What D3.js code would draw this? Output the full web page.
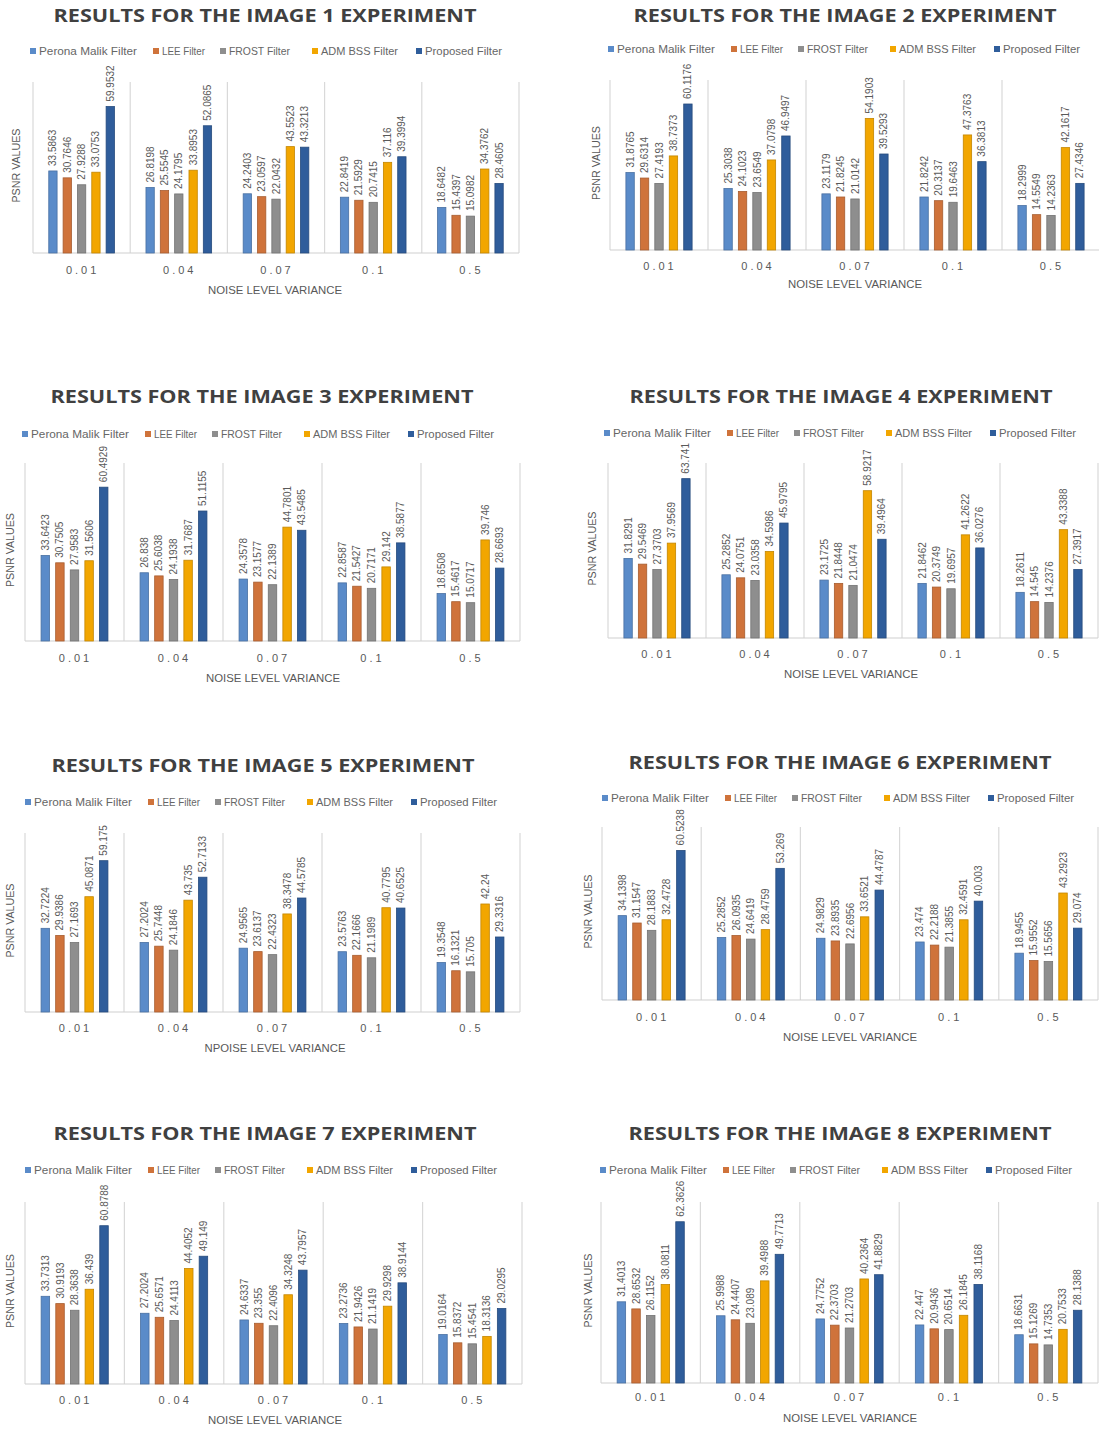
<!DOCTYPE html>
<html lang="en">
<head>
  <meta charset="utf-8">
  <title>PSNR results</title>
  <script src="https://d3js.org/d3.v7.min.js"></script>
  <style>
    body { margin: 0; background: #fff; }
    text { font-family: "Liberation Sans", Arial, sans-serif; fill: #595959; }
    .title { font-family: "Open Sans", sans-serif; font-weight: bold; fill: #404040; }
  </style>
</head>
<body>
<svg id="chart" width="1099" height="1429"></svg>
<script>
"use strict"

// noise level variance groups and the five filters
const categories = ["0.01", "0.04", "0.07", "0.1", "0.5"];
const filters = ["Perona Malik Filter", "LEE Filter", "FROST Filter", "ADM BSS Filter", "Proposed Filter"];
const colors = ["#5a8bc9", "#cf733b", "#8e8e8e", "#f2a600", "#2f5d9b"];

// PSNR values, one row per noise level, in filter order
const image1 = [
  [33.5863, 30.7646, 27.9288, 33.0753, 59.9532],
  [26.8198, 25.5545, 24.1795, 33.8953, 52.0865],
  [24.2403, 23.0597, 22.0432, 43.5523, 43.3213],
  [22.8419, 21.5929, 20.7415, 37.116, 39.3994],
  [18.6482, 15.4397, 15.0982, 34.3762, 28.4605]
];
const image2 = [
  [31.8765, 29.6314, 27.4193, 38.7373, 60.1176],
  [25.3038, 24.1023, 23.6549, 37.0798, 46.9497],
  [23.1179, 21.8245, 21.0142, 54.1903, 39.5293],
  [21.8242, 20.3137, 19.6463, 47.3763, 36.3813],
  [18.2999, 14.5549, 14.2363, 42.1617, 27.4346]
];
const image3 = [
  [33.6423, 30.7505, 27.9583, 31.5606, 60.4929],
  [26.838, 25.6038, 24.1938, 31.7687, 51.1155],
  [24.3578, 23.1577, 22.1389, 44.7801, 43.5485],
  [22.8587, 21.5427, 20.7171, 29.142, 38.5877],
  [18.6508, 15.4617, 15.0717, 39.746, 28.6693]
];
const image4 = [
  [31.8291, 29.5469, 27.3703, 37.9569, 63.741],
  [25.2852, 24.0751, 23.0358, 34.5986, 45.9795],
  [23.1725, 21.8448, 21.0474, 58.9217, 39.4964],
  [21.8462, 20.3749, 19.6957, 41.2622, 36.0276],
  [18.2611, 14.545, 14.2376, 43.3388, 27.3917]
];
const image5 = [
  [32.7224, 29.9386, 27.1693, 45.0871, 59.175],
  [27.2024, 25.7448, 24.1846, 43.735, 52.7133],
  [24.9565, 23.6137, 22.4323, 38.3478, 44.5785],
  [23.5763, 22.1666, 21.1989, 40.7795, 40.6525],
  [19.3548, 16.1321, 15.705, 42.24, 29.3316]
];
const image6 = [
  [34.1398, 31.1547, 28.1883, 32.4728, 60.5238],
  [25.2852, 26.0935, 24.6419, 28.4759, 53.269],
  [24.9829, 23.8935, 22.6956, 33.6521, 44.4787],
  [23.474, 22.2188, 21.3855, 32.4591, 40.003],
  [18.9455, 15.9552, 15.5656, 43.2923, 29.074]
];
const image7 = [
  [33.7313, 30.9193, 28.3638, 36.439, 60.8788],
  [27.2024, 25.6571, 24.4113, 44.4052, 49.149],
  [24.6337, 23.355, 22.4096, 34.3248, 43.7957],
  [23.2736, 21.9426, 21.1419, 29.9298, 38.9144],
  [19.0164, 15.8372, 15.4541, 18.3136, 29.0295]
];
const image8 = [
  [31.4013, 28.6532, 26.1152, 38.0811, 62.3626],
  [25.9988, 24.4407, 23.089, 39.4988, 49.7713],
  [24.7752, 22.3703, 21.2703, 40.2364, 41.8829],
  [22.447, 20.9436, 20.6514, 26.1845, 38.1168],
  [18.6631, 15.1269, 14.7353, 20.7533, 28.1388]
];
const xTitles = ["NOISE LEVEL VARIANCE", "NOISE LEVEL VARIANCE", "NOISE LEVEL VARIANCE", "NOISE LEVEL VARIANCE",
                 "NPOISE LEVEL VARIANCE", "NOISE LEVEL VARIANCE", "NOISE LEVEL VARIANCE", "NOISE LEVEL VARIANCE"];
const images = [image1, image2, image3, image4, image5, image6, image7, image8];

// where each small chart sits on the page
const panels = [
  {left: 33,  right: 519,  top: 82,   bottom: 253,  titleX: 265, titleY: 22,   legendX: 30,  legendY: 55,   catY: 274,  xtX: 275, xtY: 294,  ytX: 20},
  {left: 610, right: 1100, top: 80,   bottom: 250,  titleX: 845, titleY: 22,   legendX: 608, legendY: 53,   catY: 270,  xtX: 855, xtY: 288,  ytX: 600},
  {left: 25,  right: 520,  top: 463,  bottom: 641,  titleX: 262, titleY: 403,  legendX: 22,  legendY: 438,  catY: 662,  xtX: 273, xtY: 682,  ytX: 14},
  {left: 608, right: 1098, top: 463,  bottom: 638,  titleX: 841, titleY: 403,  legendX: 604, legendY: 437,  catY: 658,  xtX: 851, xtY: 678,  ytX: 596},
  {left: 25,  right: 520,  top: 833,  bottom: 1012, titleX: 263, titleY: 772,  legendX: 25,  legendY: 806,  catY: 1032, xtX: 275, xtY: 1052, ytX: 14},
  {left: 602, right: 1098, top: 827,  bottom: 1000, titleX: 840, titleY: 769,  legendX: 602, legendY: 802,  catY: 1021, xtX: 850, xtY: 1041, ytX: 592},
  {left: 25,  right: 522,  top: 1202, bottom: 1384, titleX: 265, titleY: 1140, legendX: 25,  legendY: 1174, catY: 1404, xtX: 275, xtY: 1424, ytX: 14},
  {left: 601, right: 1098, top: 1202, bottom: 1383, titleX: 840, titleY: 1140, legendX: 600, legendY: 1174, catY: 1401, xtX: 850, xtY: 1422, ytX: 592}
];

const legendOffsets = [0, 123, 190, 282, 386];
const legendWidths = [107, 52, 70, 86, 86];

const svg = d3.select('#chart');

function desenhaPainel(dados, p, i) {
  const g = svg.append('g');

  const x0 = d3.scaleBand().domain(categories).range([p.left, p.right]);
  const x1 = d3.scaleBand().domain(filters).range([0, x0.bandwidth()])
               .paddingInner(0.42).paddingOuter(1.1);
  const y = d3.scaleLinear().domain([0, 70]).range([p.bottom, p.top]);

  // title
  g.append('text').attr('class', 'title')
    .attr('x', p.titleX).attr('y', p.titleY)
    .attr('text-anchor', 'middle')
    .style('font-size', '18px')
    .attr('textLength', 423).attr('lengthAdjust', 'spacingAndGlyphs')
    .text('RESULTS FOR THE IMAGE ' + (i + 1) + ' EXPERIMENT');

  // legend
  const leg = g.selectAll('.leg').data(filters).enter().append('g')
    .attr('transform', (d, k) => 'translate(' + (p.legendX + legendOffsets[k]) + ',' + p.legendY + ')');
  leg.append('rect').attr('x', 0).attr('y', -7).attr('width', 6).attr('height', 6)
    .attr('fill', (d, k) => colors[k]);
  leg.append('text').attr('x', 9).attr('y', 0)
    .style('font-size', '11px').style('fill', '#666')
    .attr('textLength', (d, k) => legendWidths[k] - 9).attr('lengthAdjust', 'spacingAndGlyphs')
    .text(d => d);

  // category separators and baseline
  const bounds = categories.map(c => x0(c)).concat([p.right]);
  g.selectAll('.grid').data(bounds).enter().append('line')
    .attr('x1', d => d).attr('x2', d => d)
    .attr('y1', p.top).attr('y2', p.bottom)
    .attr('stroke', '#d9d9d9').attr('stroke-width', 1.2);
  g.append('line')
    .attr('x1', p.left).attr('x2', p.right)
    .attr('y1', p.bottom).attr('y2', p.bottom)
    .attr('stroke', '#d0d0d0').attr('stroke-width', 1.2);

  // bars + value labels
  const grupos = g.selectAll('.grupo').data(dados).enter().append('g')
    .attr('transform', (d, k) => 'translate(' + x0(categories[k]) + ',0)');

  const itens = d => d.map((v, k) => ({filtro: filters[k], v: v, k: k}));

  grupos.selectAll('rect').data(itens).enter().append('rect')
    .attr('x', d => x1(d.filtro))
    .attr('y', d => y(d.v))
    .attr('width', x1.bandwidth())
    .attr('height', d => p.bottom - y(d.v))
    .attr('fill', d => colors[d.k])
    .attr('stroke', d => d3.color(colors[d.k]).darker(0.6))
    .attr('stroke-width', 0.8);

  grupos.selectAll('.lbl').data(itens).enter().append('text')
    .attr('transform', d => 'translate(' + (x1(d.filtro) + x1.bandwidth() / 2 + 3.5) + ',' + (y(d.v) - 5) + ') rotate(-90)')
    .style('font-size', '10px')
    .text(d => String(d.v));

  // category labels
  g.selectAll('.cat').data(categories).enter().append('text')
    .attr('x', d => x0(d) + x0.bandwidth() / 2 + 1)
    .attr('y', p.catY)
    .attr('text-anchor', 'middle')
    .style('font-size', '11px').style('letter-spacing', '3px')
    .text(d => d);

  // axis titles
  g.append('text')
    .attr('x', p.xtX).attr('y', p.xtY)
    .attr('text-anchor', 'middle')
    .style('font-size', '11px')
    .attr('textLength', xTitles[i].length > 20 ? 141 : 134).attr('lengthAdjust', 'spacingAndGlyphs')
    .text(xTitles[i]);

  g.append('text')
    .attr('transform', 'translate(' + p.ytX + ',' + ((p.top + p.bottom) / 2 - 2) + ') rotate(-90)')
    .attr('text-anchor', 'middle')
    .style('font-size', '10px')
    .attr('textLength', 74).attr('lengthAdjust', 'spacingAndGlyphs')
    .text('PSNR VALUES');
}

images.forEach((dados, i) => desenhaPainel(dados, panels[i], i));
</script>
</body>
</html>
